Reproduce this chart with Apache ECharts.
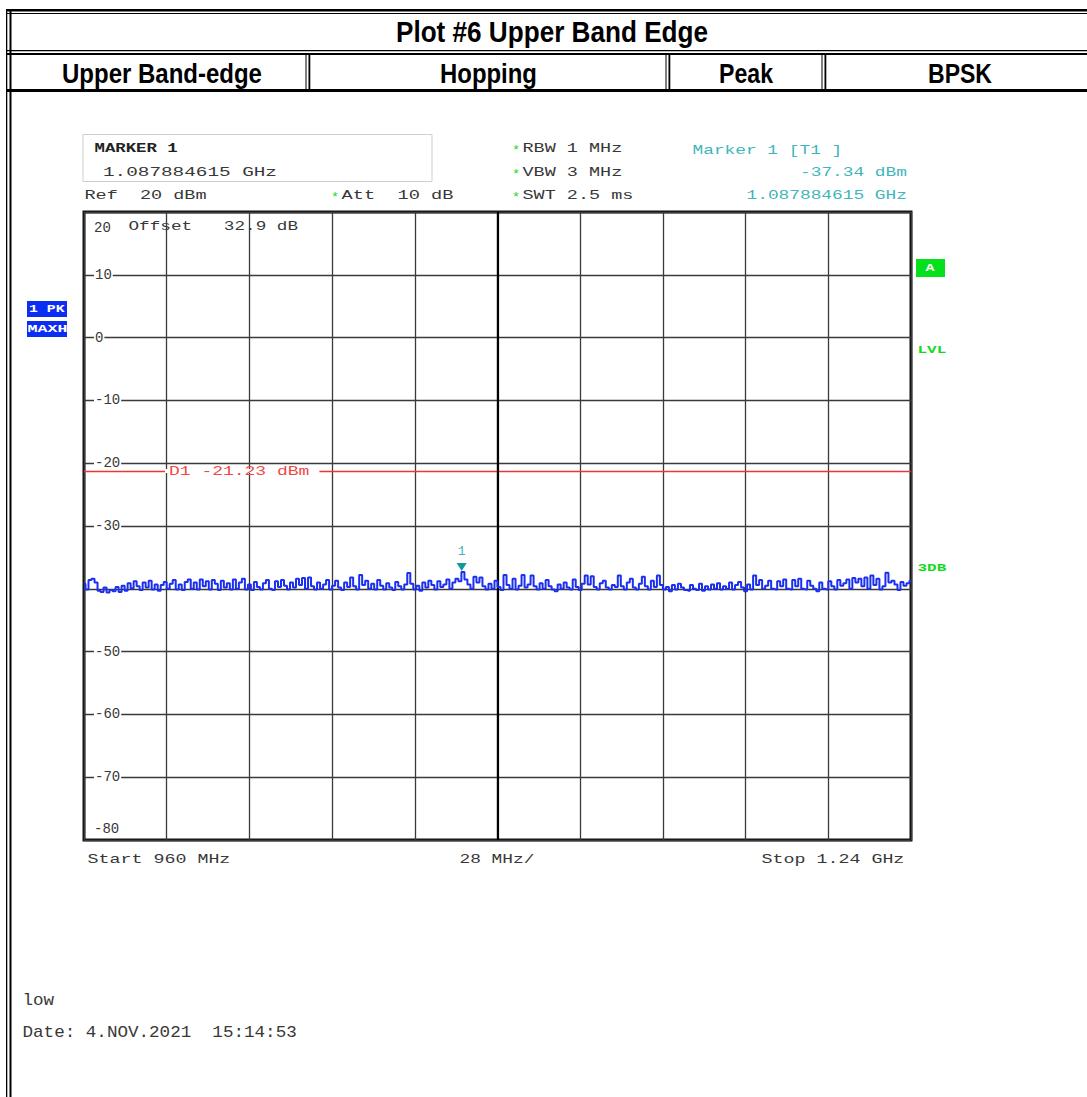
<!DOCTYPE html>
<html>
<head>
<meta charset="utf-8">
<style>
html,body{margin:0;padding:0;background:#fff;}
#c{width:1087px;height:1097px;}
</style>
<script src="https://cdn.jsdelivr.net/npm/echarts@6/dist/echarts.min.js"></script>
</head>
<body>
<div id="c"></div>
<script>
// ---------------- data ----------------
const START_MHZ = 960;
const SPAN_MHZ = 280;          // 960 MHz .. 1.24 GHz
const DIV_MHZ = 28;            // 28 MHz / div
const REF_DBM = 20;
const BOTTOM_DBM = -80;
const STEP_DB = 10;
const Y_TICK_LABELS = [20, 10, 0, -10, -20, -30, -50, -60, -70, -80];
const DISPLAY_LINE_DBM = -21.23;
const MARKER_MHZ = 1087.884615;
const MARKER_DBM = -37.34;

// max-hold peak trace (dBm), evenly spaced sweep points 960 MHz .. 1240 MHz
const TRACE_DBM = [
 -39.2,-40.1,-38.6,-38.4,-39.0,-40.3,-40.5,-39.8,-40.6,-40.2,
 -40.4,-39.7,-40.5,-39.5,-40.3,-39.1,-39.9,-38.8,-39.6,-40.2,
 -39.0,-39.8,-38.7,-40.1,-39.3,-40.3,-39.4,-38.9,-40.0,-39.2,
 -38.6,-40.1,-39.3,-40.2,-38.9,-38.5,-40.0,-39.0,-40.1,-38.5,
 -39.6,-38.8,-40.1,-38.6,-39.2,-40.2,-38.7,-39.8,-39.1,-40.1,
 -38.5,-40.0,-39.0,-38.4,-40.1,-39.3,-40.2,-38.9,-39.7,-40.1,
 -39.1,-38.6,-40.0,-40.2,-38.8,-39.7,-38.6,-39.5,-40.1,-39.0,
 -39.8,-38.4,-39.4,-38.3,-40.0,-38.2,-39.6,-40.1,-39.0,-40.0,
 -39.3,-38.6,-40.1,-39.5,-38.7,-39.8,-40.2,-39.0,-39.7,-38.2,
 -39.6,-40.1,-37.8,-39.4,-38.7,-40.0,-39.2,-40.1,-38.6,-39.5,
 -40.1,-39.1,-39.8,-40.2,-38.9,-39.6,-40.1,-39.3,-37.5,-39.2,
 -40.1,-39.5,-40.3,-39.0,-39.8,-38.7,-39.4,-40.1,-38.8,-39.7,
 -39.3,-38.5,-40.0,-39.0,-38.4,-38.8,-37.34,-38.5,-39.3,-40.0,
 -38.1,-39.0,-38.2,-39.6,-40.1,-39.2,-40.0,-38.7,-39.7,-40.2,
 -37.8,-39.4,-40.0,-38.4,-40.1,-39.5,-37.8,-39.8,-39.3,-37.9,
 -39.6,-40.1,-39.1,-40.0,-38.6,-39.6,-40.1,-40.4,-39.3,-40.0,
 -39.0,-39.8,-40.1,-38.5,-39.7,-40.2,-39.2,-37.9,-39.3,-38.0,
 -39.7,-40.1,-39.1,-38.7,-39.8,-40.1,-39.4,-39.7,-37.9,-39.6,
 -40.1,-39.0,-38.4,-39.8,-40.1,-39.2,-38.1,-39.6,-40.1,-38.7,
 -39.7,-37.9,-39.4,-40.1,-39.7,-40.4,-39.4,-40.1,-39.2,-39.8,
 -40.2,-40.3,-39.4,-40.0,-40.2,-39.2,-40.3,-39.6,-40.1,-39.3,
 -40.0,-39.1,-40.1,-39.6,-40.0,-39.0,-40.1,-39.4,-38.9,-39.8,
 -40.4,-39.3,-40.1,-37.9,-39.4,-38.6,-40.0,-39.5,-38.7,-40.0,
 -40.1,-38.8,-39.6,-38.5,-40.0,-40.1,-38.6,-39.6,-38.4,-40.0,
 -40.1,-38.7,-39.5,-40.0,-40.4,-39.0,-40.0,-40.1,-38.8,-39.6,
 -40.1,-38.6,-39.5,-39.1,-38.5,-40.0,-38.3,-39.0,-38.4,-39.6,
 -38.2,-40.0,-37.9,-39.4,-38.4,-40.1,-39.6,-37.45,-39.0,-38.7,
 -39.3,-40.2,-38.9,-39.5,-39.1,-38.7
];

// header texts
const TITLE = 'Plot #6 Upper Band Edge';
const HEADER_CELLS = ['Upper Band-edge', 'Hopping', 'Peak', 'BPSK'];

// ---------------- helpers ----------------
const N = TRACE_DBM.length;
const traceData = TRACE_DBM.map((v, i) => [i * SPAN_MHZ / (N - 1), v]);

const MONO = '"Liberation Mono", "DejaVu Sans Mono", monospace';
const SANS = '"Liberation Sans", Arial, sans-serif';
const GREY = '#383838';
const CYAN = '#3fb5bd';
const GREEN = '#16d91e';

const measureCtx = document.createElement('canvas').getContext('2d');
function measure(text, font) { measureCtx.font = font; return measureCtx.measureText(text).width; }

function mono(x, y, text, pitch, opt) {
  opt = opt || {};
  const size = opt.size || 13;
  return {
    type: 'text', x: x, y: y + 2, z: 100, silent: true,
    scaleX: pitch / (0.6 * size),
    style: {
      text: text, fontFamily: MONO, fontSize: size,
      fontWeight: opt.bold ? 'bold' : 'normal',
      fill: opt.color || GREY,
      align: 'left', verticalAlign: 'middle',
      textAlign: 'left', textVerticalAlign: 'middle'
    }
  };
}
function monoRight(right, y, text, pitch, opt) {
  return mono(right - text.length * pitch + 1, y, text, pitch, opt);
}
function header(cx, cy, text, width, size) {
  const font = 'bold ' + size + 'px ' + SANS;
  return {
    type: 'text', x: cx, y: cy, z: 100, silent: true,
    scaleX: width / measure(text, font),
    style: {
      text: text, fontFamily: SANS, fontSize: size, fontWeight: 'bold', fill: '#000',
      align: 'center', verticalAlign: 'middle',
      textAlign: 'center', textVerticalAlign: 'middle'
    }
  };
}
function box(x, y, w, h, fill) {
  return { type: 'rect', z: 90, silent: true, shape: { x: x, y: y, width: w, height: h }, style: { fill: fill } };
}

// ---------------- chart ----------------
const chart = echarts.init(document.getElementById('c'), null, { renderer: 'svg', width: 1087, height: 1097 });

const GRID = { left: 84, top: 212, width: 827, height: 628 };

const option = {
  animation: false,
  backgroundColor: '#fff',
  grid: Object.assign({ show: true, borderColor: '#111', borderWidth: 3, containLabel: false }, GRID),
  xAxis: {
    type: 'value', min: 0, max: SPAN_MHZ, interval: DIV_MHZ, z: 0,
    axisLine: { show: false }, axisTick: { show: false }, axisLabel: { show: false },
    splitLine: { show: true, lineStyle: { color: '#3a3a3a', width: 1.3 } }
  },
  yAxis: {
    type: 'value', min: BOTTOM_DBM, max: REF_DBM, interval: STEP_DB, z: 0,
    axisLine: { show: false }, axisTick: { show: false },
    axisLabel: {
      inside: true, margin: 10,
      fontFamily: MONO, fontSize: 14, color: GREY,
      backgroundColor: '#fff', padding: [0, 1, 0, 1],
      formatter: function (v) {
        if (v === REF_DBM || v === BOTTOM_DBM) return '';
        return Y_TICK_LABELS.indexOf(v) >= 0 ? String(v) : '';
      }
    },
    splitLine: { show: true, lineStyle: { color: '#3a3a3a', width: 1.3 } }
  },
  series: [
    {
      type: 'line', data: traceData, showSymbol: false, symbol: 'none', step: 'middle',
      lineStyle: { color: '#1a2ff0', width: 2 },
      z: 10,
      markPoint: {
        symbol: 'triangle', symbolRotate: 180, symbolSize: [10, 8], symbolOffset: [0, -5],
        itemStyle: { color: '#119a9a' },
        label: { show: true, position: 'top', distance: 5, formatter: '1', color: CYAN, fontFamily: MONO, fontSize: 13 },
        data: [{ coord: [MARKER_MHZ - START_MHZ, MARKER_DBM] }]
      }
    },
    {
      type: 'line', data: [], z: 3,
      markLine: {
        silent: true, symbol: ['none', 'none'], label: { show: false }, animation: false,
        data: [
          { yAxis: DISPLAY_LINE_DBM, lineStyle: { color: '#ee3535', width: 1.3, type: 'solid' } },
          { xAxis: SPAN_MHZ / 2, lineStyle: { color: '#000', width: 2.2, type: 'solid' } }
        ]
      }
    }
  ]
};
chart.setOption(option);

// ---------------- annotations ----------------
const topPx = chart.convertToPixel({ gridIndex: 0 }, [0, REF_DBM]);
const botPx = chart.convertToPixel({ gridIndex: 0 }, [0, BOTTOM_DBM]);
const d1Px = chart.convertToPixel({ gridIndex: 0 }, [0, DISPLAY_LINE_DBM]);

const D1_TEXT = 'D1 -21.23 dBm';
const d1Start = 169;

const graphics = [
  // page frame / header table
  box(6, 9, 1081, 2.5, '#000'),
  box(6, 13, 1081, 1, '#000'),
  box(6, 50, 1081, 1.2, '#000'),
  box(6, 53, 1081, 2, '#000'),
  box(6, 89, 1081, 3, '#000'),
  box(6, 9, 1.3, 1088, '#000'),
  box(9.5, 9, 2, 1088, '#000'),
  box(305.5, 54, 1, 36, '#000'), box(308.5, 54, 1.8, 36, '#000'),
  box(665.5, 54, 1, 36, '#000'), box(668.5, 54, 1.8, 36, '#000'),
  box(821.5, 54, 1, 36, '#000'), box(824.5, 54, 1.8, 36, '#000'),
  header(552, 32, TITLE, 312, 30),
  header(162, 73, HEADER_CELLS[0], 200, 28),
  header(488.5, 73, HEADER_CELLS[1], 97, 28),
  header(746, 73, HEADER_CELLS[2], 54, 28),
  header(960, 73, HEADER_CELLS[3], 64, 28),

  // marker info box
  { type: 'rect', z: 90, silent: true, shape: { x: 83, y: 134.5, width: 349, height: 47 },
    style: { fill: 'none', stroke: '#cfcfcf', lineWidth: 1 } },
  mono(94.5, 147, 'MARKER 1', 10.4, { bold: true, size: 12, color: '#222' }),
  mono(103, 170, '1.087884615 GHz', 11.6),
  mono(84.5, 194, 'Ref  20 dBm', 11.1),
  mono(331, 196, '*', 8, { size: 12, color: GREEN }),
  mono(341.5, 194, 'Att  10 dB', 11.2),
  mono(512, 149, '*', 8, { size: 12, color: GREEN }),
  mono(522.5, 147, 'RBW 1 MHz', 11.1),
  mono(512, 173, '*', 8, { size: 12, color: GREEN }),
  mono(522.5, 171, 'VBW 3 MHz', 11.1),
  mono(512, 196, '*', 8, { size: 12, color: GREEN }),
  mono(522.5, 194, 'SWT 2.5 ms', 11.1),
  mono(692.5, 149, 'Marker 1 [T1 ]', 10.7, { color: CYAN }),
  monoRight(906, 171, '-37.34 dBm', 10.7, { color: CYAN }),
  monoRight(906, 194, '1.087884615 GHz', 10.7, { color: CYAN }),

  // in-grid texts
  mono(128.5, 225, 'Offset   32.9 dB', 10.6),
  { type: 'text', x: 94, y: topPx[1] + 16, z: 100, silent: true,
    style: { text: String(REF_DBM), fontFamily: MONO, fontSize: 14, fill: GREY, align: 'left', verticalAlign: 'middle', textAlign: 'left', textVerticalAlign: 'middle' } },
  { type: 'text', x: 94, y: botPx[1] - 11, z: 100, silent: true,
    style: { text: String(BOTTOM_DBM), fontFamily: MONO, fontSize: 14, fill: GREY, align: 'left', verticalAlign: 'middle', textAlign: 'left', textVerticalAlign: 'middle' } },

  // display line label
  box(d1Start - 4, d1Px[1] - 2, D1_TEXT.length * 10.8 + 14, 4, '#fff'),
  mono(d1Start, d1Px[1] - 1, D1_TEXT, 10.8, { color: '#f04848' }),

  // trace indicators
  box(27, 301, 40, 16, '#0c2ef2'),
  mono(29, 307.5, '1 PK', 8.9, { bold: true, size: 10, color: '#fff' }),
  box(27, 321, 40, 16, '#0c2ef2'),
  mono(27.5, 327.5, 'MAXH', 10, { bold: true, size: 10, color: '#fff' }),
  box(916, 259, 29, 18, '#04e01c'),
  mono(925.5, 266.5, 'A', 9, { bold: true, size: 11, color: '#fff' }),
  mono(917.5, 348, 'LVL', 9.6, { bold: true, size: 10, color: GREEN }),
  mono(917.5, 566, '3DB', 9.6, { bold: true, size: 10, color: GREEN }),

  // bottom texts
  mono(87.5, 858, 'Start 960 MHz', 11),
  mono(459.5, 858, '28 MHz/', 10.7),
  mono(761.5, 858, 'Stop 1.24 GHz', 11),
  mono(22.5, 999, 'low', 10.56, { size: 16 }),
  mono(22.5, 1031, 'Date: 4.NOV.2021  15:14:53', 10.56, { size: 16 })
];

chart.setOption({ graphic: { elements: graphics } });
</script>
</body>
</html>
